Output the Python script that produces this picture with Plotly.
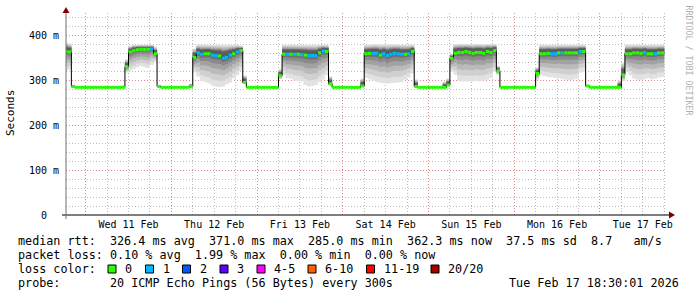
import pandas as pd
import plotly.graph_objects as go

# ---------------- data (hourly bins starting 2026-02-10 18:00) ----------------
bin_start = "2026-02-10 18:00"
range_start = "2026-02-10 18:30:01"
range_end = "2026-02-17 18:30:01"

median_ms = [
    365, 364, 287, 285, 285, 285, 285, 285, 285, 285, 285, 285, 285, 285, 285, 285,
    285, 331, 364, 367, 369, 370, 370, 370, 371, 360, 287, 285, 285, 285, 285, 285,
    285, 285, 285, 287, 352, 362, 359, 360, 360, 357, 356, 355, 350, 352, 357, 360,
    364, 367, 296, 285, 285, 285, 285, 285, 285, 285, 285, 285, 311, 359, 359, 359,
    359, 359, 358, 357, 356, 356, 356, 362, 366, 365, 293, 285, 285, 285, 285, 285,
    285, 285, 285, 288, 360, 361, 361, 361, 357, 360, 356, 359, 361, 360, 359, 359,
    360, 365, 287, 285, 285, 285, 285, 285, 285, 285, 285, 290, 350, 361, 363, 363,
    365, 363, 361, 363, 363, 361, 365, 363, 367, 322, 285, 285, 285, 285, 285, 285,
    285, 285, 285, 285, 316, 360, 360, 361, 360, 360, 362, 362, 362, 362, 362, 362,
    365, 365, 288, 285, 285, 285, 285, 285, 285, 285, 285, 285, 313, 360, 360, 362,
    362, 361, 363, 360, 360, 360, 362, 362,
]

loss_bucket = [
    0, 0, 0, 0, 0, 0, 0, 0, 0, 0, 0, 0, 0, 0, 0, 0,
    0, 0, 0, 0, 0, 0, 0, 0, 1, 0, 0, 0, 0, 0, 0, 0,
    0, 0, 0, 0, 0, 1, 1, 0, 0, 1, 1, 0, 1, 1, 1, 0,
    1, 0, 0, 0, 0, 0, 0, 0, 0, 0, 0, 0, 0, 0, 1, 0,
    1, 0, 1, 0, 1, 1, 1, 0, 1, 0, 0, 0, 0, 0, 0, 0,
    0, 0, 0, 0, 0, 0, 1, 1, 0, 1, 1, 1, 1, 1, 1, 0,
    1, 0, 0, 0, 0, 0, 0, 0, 0, 0, 0, 0, 0, 0, 0, 0,
    0, 0, 0, 0, 0, 0, 0, 0, 0, 0, 0, 0, 0, 0, 0, 0,
    0, 0, 0, 0, 0, 0, 0, 0, 1, 1, 0, 1, 0, 0, 0, 0,
    1, 0, 0, 0, 0, 0, 0, 0, 0, 0, 0, 0, 0, 0, 0, 0,
    0, 0, 1, 0, 0, 1, 0, 0,
]

smoke_lo = [
    322, 325, 285, 285, 285, 285, 285, 285, 285, 285, 285, 285, 285, 285, 285, 285,
    285, 318, 322, 326, 330, 332, 330, 328, 335, 342, 286, 285, 285, 285, 285, 285,
    285, 285, 285, 285, 318, 309, 300, 297, 294, 289, 287, 286, 287, 292, 296, 305,
    312, 322, 294, 285, 285, 285, 285, 285, 285, 285, 285, 285, 303, 313, 306, 304,
    300, 299, 298, 290, 287, 288, 290, 297, 302, 312, 291, 285, 285, 285, 285, 285,
    285, 285, 285, 285, 306, 303, 300, 297, 295, 294, 293, 294, 295, 296, 297, 302,
    307, 316, 287, 285, 285, 285, 285, 285, 285, 285, 286, 288, 320, 313, 300, 298,
    298, 298, 298, 299, 298, 300, 302, 306, 320, 313, 285, 285, 285, 285, 285, 285,
    285, 285, 285, 285, 302, 312, 310, 308, 307, 306, 305, 303, 302, 301, 302, 304,
    318, 321, 285, 285, 285, 285, 285, 285, 285, 285, 285, 285, 298, 320, 312, 305,
    302, 302, 303, 306, 303, 304, 307, 308,
]

smoke_hi = [
    385, 383, 290, 285, 285, 285, 285, 285, 285, 285, 285, 285, 285, 285, 285, 285,
    289, 348, 378, 380, 380, 380, 380, 380, 380, 376, 290, 285, 285, 285, 285, 285,
    285, 285, 285, 293, 372, 380, 380, 380, 380, 380, 380, 380, 380, 380, 380, 380,
    380, 378, 312, 285, 285, 285, 285, 285, 285, 285, 285, 285, 326, 380, 380, 380,
    380, 380, 380, 380, 380, 380, 380, 380, 380, 380, 310, 285, 285, 285, 285, 285,
    285, 285, 285, 305, 380, 380, 381, 381, 381, 381, 381, 381, 381, 381, 380, 380,
    380, 380, 303, 285, 285, 285, 285, 285, 285, 285, 298, 305, 360, 382, 382, 382,
    382, 382, 382, 382, 382, 382, 382, 382, 382, 333, 285, 285, 285, 285, 285, 285,
    285, 285, 285, 285, 330, 380, 380, 380, 380, 380, 380, 380, 380, 380, 380, 380,
    380, 380, 291, 285, 285, 285, 285, 285, 285, 285, 285, 300, 340, 380, 380, 380,
    380, 380, 380, 380, 380, 380, 380, 380,
]

loss_labels = ["0", "1", "2", "3", "4-5", "6-10", "11-19", "20/20"]
loss_colors = ["#26ff00", "#00b8ff", "#0059ff", "#5e00ff", "#ff00ff", "#ff5e00", "#ff0000", "#a10000"]
loss_box_px = [108, 145.5, 182.5, 220, 257, 308, 366.5, 431]

y_tick_vals = [0, 100, 200, 300, 400]
y_tick_text = ["0\u00a0\u00a0", "100\u00a0m", "200\u00a0m", "300\u00a0m", "400\u00a0m"]

legend_lines = [
    "median rtt:  326.4 ms avg  371.0 ms max  285.0 ms min  362.3 ms now  37.5 ms sd  8.7   am/s",
    "packet loss: 0.10 % avg  1.99 % max  0.00 % min  0.00 % now",
    "loss color:",
    "probe:       20 ICMP Echo Pings (56 Bytes) every 300s",
]
timestamp = "Tue Feb 17 18:30:01 2026"

# ---------------- geometry helpers (pixel -> paper) ----------------
W, H = 697, 297
L, R, T, B = 66, 666, 13, 215


def px(x):
    return (x - L) / (R - L)


def py(y):
    return (B - y) / (B - T)


nb = lambda s: s.replace(" ", "\u00a0")
MONO = "DejaVu Sans Mono"

n = len(median_ms)
edges = pd.date_range(bin_start, periods=n + 1, freq="h")
ext = lambda a: list(a) + [a[-1]]

fig = go.Figure()

# smoke layers (outer = light, inner = dark)
smoke_levels = [
    (0.00, "#e2e2e2"), (0.20, "#d0d0d0"), (0.40, "#bababa"),
    (0.58, "#a2a2a2"), (0.74, "#8a8a8a"), (0.87, "#727272"), (0.95, "#5c5c5c"),
]
for f, col in smoke_levels:
    lower = [lo + f * (m - lo) for lo, m in zip(smoke_lo, median_ms)]
    upper = [hi - f * 0.55 * (hi - m) for hi, m in zip(smoke_hi, median_ms)]
    fig.add_trace(go.Scatter(x=edges, y=ext(lower), mode="lines", line=dict(width=0, shape="hv"),
                             hoverinfo="skip", showlegend=False))
    fig.add_trace(go.Scatter(x=edges, y=ext(upper), mode="lines", line=dict(width=0, shape="hv"),
                             fill="tonexty", fillcolor=col, hoverinfo="skip", showlegend=False))

# black median step line
fig.add_trace(go.Scatter(x=edges, y=ext(median_ms), mode="lines",
                         line=dict(color="#000000", width=1, shape="hv"),
                         hoverinfo="skip", showlegend=False))

# coloured median segments by loss
for b, col in enumerate(loss_colors):
    xs, ys = [], []
    for i in range(n):
        if loss_bucket[i] == b:
            xs += [edges[i], edges[i + 1], None]
            ys += [median_ms[i], median_ms[i], None]
    if xs:
        fig.add_trace(go.Scatter(x=xs, y=ys, mode="lines", line=dict(color=col, width=3),
                                 hoverinfo="skip", showlegend=False))

grid_minor = "#bdbdbd"
grid_major = "#e08a8a"

fig.update_layout(
    width=W, height=H, autosize=False,
    margin=dict(l=L, r=W - R, t=T, b=H - B, pad=0),
    paper_bgcolor="#ffffff", plot_bgcolor="#ffffff",
    font=dict(family=MONO, size=10, color="#000000"),
    showlegend=False,
)
fig.update_xaxes(
    type="date", range=[range_start, range_end],
    tick0="2026-02-11", dtick=86400000, ticklabelmode="period", tickformat="%a %d %b",
    showgrid=True, gridcolor=grid_major, griddash="1px,2px", gridwidth=1,
    minor=dict(dtick=21600000, showgrid=True, gridcolor=grid_minor, griddash="1px,2px", gridwidth=1),
    ticks="", showline=False, zeroline=False,
    tickfont=dict(family=MONO, size=10, color="#000000"), ticklabelstandoff=2,
)
fig.update_yaxes(
    range=[0, 451], tickvals=y_tick_vals, ticktext=y_tick_text,
    showgrid=True, gridcolor=grid_major, griddash="1px,2px", gridwidth=1,
    minor=dict(dtick=20, showgrid=True, gridcolor=grid_minor, griddash="1px,2px", gridwidth=1),
    ticks="", showline=False, zeroline=False,
    tickfont=dict(family=MONO, size=10, color="#000000"), ticklabelstandoff=6,
)

shapes = []
# axes with arrows
shapes.append(dict(type="line", xref="paper", yref="paper", x0=px(62), x1=px(670), y0=py(215), y1=py(215),
                   line=dict(color="#000000", width=1)))
shapes.append(dict(type="line", xref="paper", yref="paper", x0=px(66), x1=px(66), y0=py(219), y1=py(11),
                   line=dict(color="#707070", width=1)))
shapes.append(dict(type="path", xref="paper", yref="paper",
                   path=f"M {px(669)} {py(211.5)} L {px(675)} {py(215)} L {px(669)} {py(218.5)} Z",
                   fillcolor="#7f0000", line=dict(width=0)))
shapes.append(dict(type="path", xref="paper", yref="paper",
                   path=f"M {px(62.5)} {py(13)} L {px(66)} {py(7)} L {px(69.5)} {py(13)} Z",
                   fillcolor="#7f0000", line=dict(width=0)))
# loss colour swatches
for xb, col in zip(loss_box_px, loss_colors):
    shapes.append(dict(type="rect", xref="paper", yref="paper",
                       x0=px(xb), x1=px(xb + 8), y0=py(273), y1=py(265),
                       fillcolor=col, line=dict(color="#000000", width=1)))
fig.update_layout(shapes=shapes)

ann = []
LEG = 11.75
row_y = [241, 255, 269, 283]
for txt, yy in zip(legend_lines, row_y):
    ann.append(dict(text=nb(txt), x=px(16), y=py(yy), xref="paper", yref="paper",
                    xanchor="left", yanchor="middle", showarrow=False,
                    font=dict(family=MONO, size=LEG, color="#000000")))
for xb, lab in zip(loss_box_px, loss_labels):
    ann.append(dict(text=lab, x=px(xb + 15), y=py(269), xref="paper", yref="paper",
                    xanchor="left", yanchor="middle", showarrow=False,
                    font=dict(family=MONO, size=LEG, color="#000000")))
ann.append(dict(text=nb(timestamp), x=px(681), y=py(283), xref="paper", yref="paper",
                xanchor="right", yanchor="middle", showarrow=False,
                font=dict(family=MONO, size=LEG, color="#000000")))
ann.append(dict(text="Seconds", x=px(10.5), y=py(113.5), xref="paper", yref="paper",
                xanchor="center", yanchor="middle", textangle=-90, showarrow=False,
                font=dict(family=MONO, size=11, color="#000000")))
ann.append(dict(text=nb("RRDTOOL / TOBI OETIKER"), x=px(688.5), y=py(60), xref="paper", yref="paper",
                xanchor="center", yanchor="middle", textangle=90, showarrow=False,
                font=dict(family=MONO, size=8.3, color="#b0b0b0")))
fig.update_layout(annotations=ann)

fig.write_html("out.html")
